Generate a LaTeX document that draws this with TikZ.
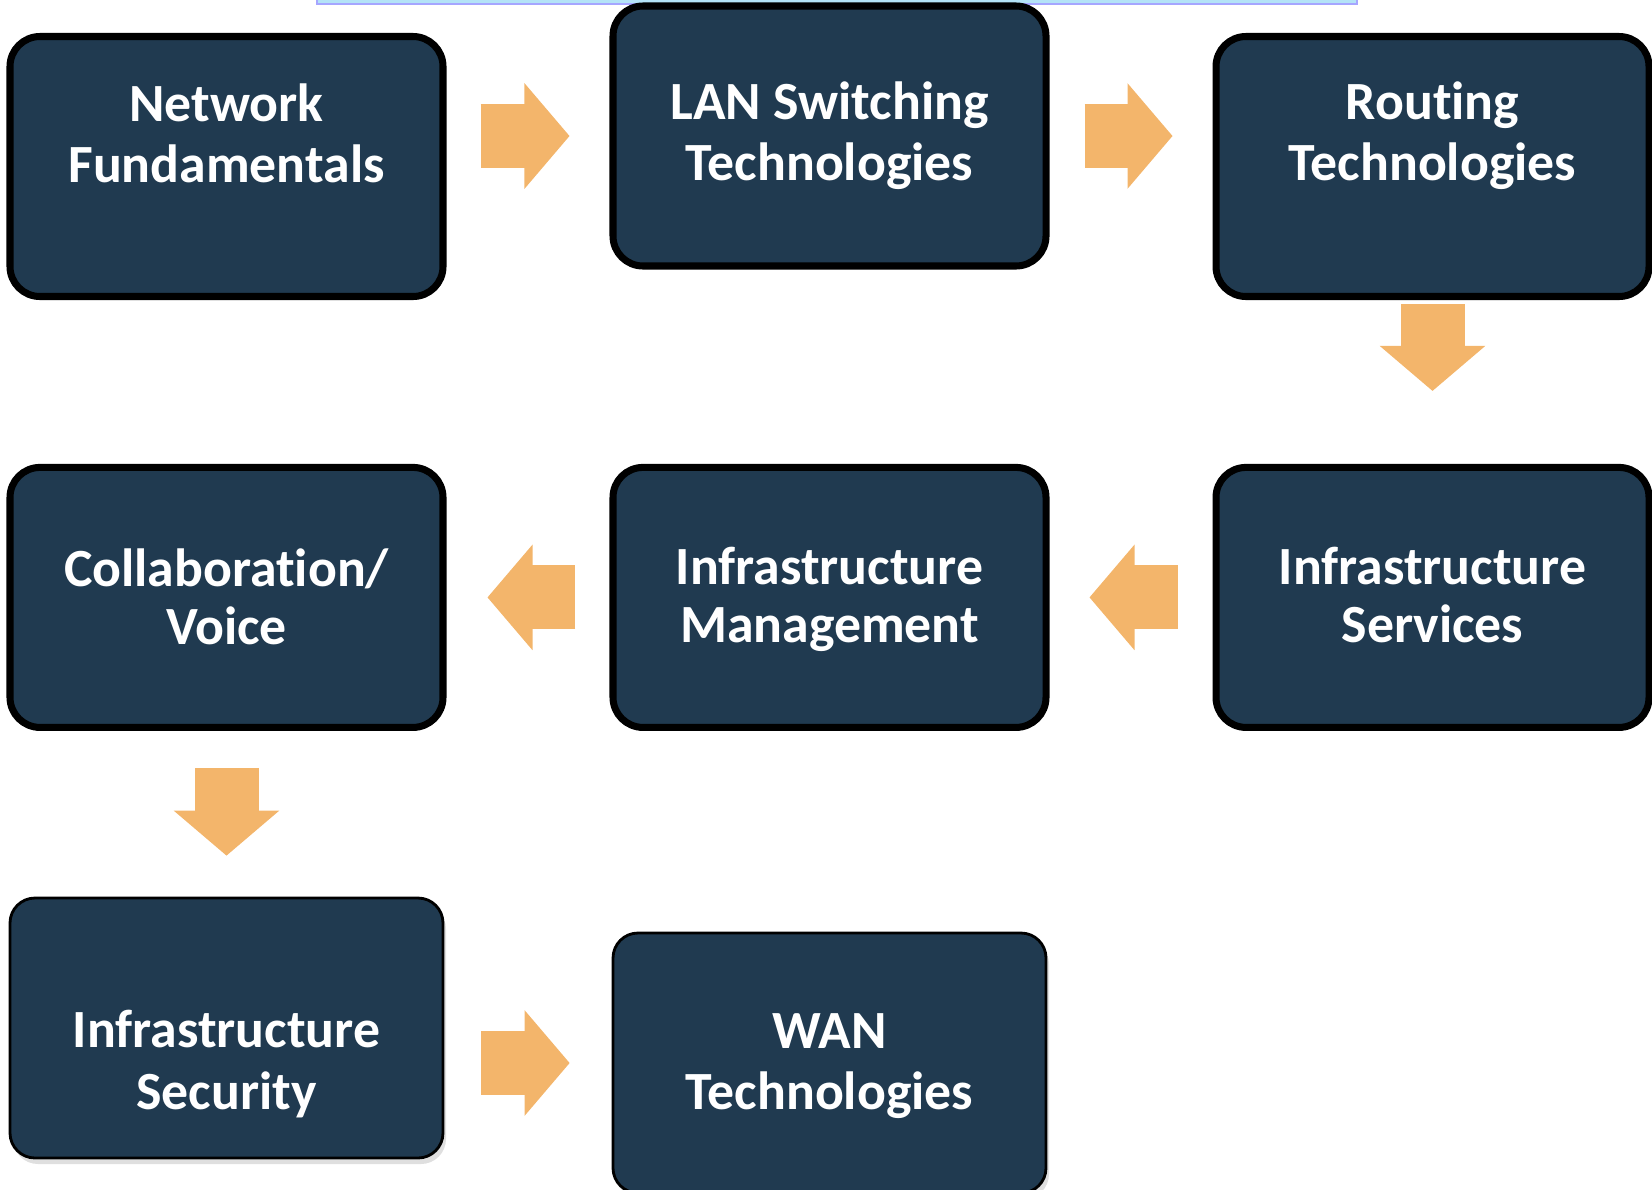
\documentclass[tikz,border=0pt]{standalone}
\usepackage{fontspec}
\setmainfont{Carlito}[Ligatures={NoCommon,NoContextual}]
\usetikzlibrary{arrows.meta,shadows}
\definecolor{boxblue}{HTML}{203A50}
\definecolor{flowora}{HTML}{F3B56B}
\definecolor{barblue}{HTML}{B4E3F7}

\tikzset{
  stage/.style={draw=black, line width=2pt, fill=boxblue, rounded corners=0.3cm,
    minimum width=4.33cm, minimum height=2.6cm, inner sep=0pt},
  thinstage/.style={stage, line width=0.8pt, rounded corners=0.25cm,
    drop shadow={opacity=0.25, shadow xshift=0.03cm, shadow yshift=-0.06cm}},
  lbl/.style={text=white, font=\fontsize{15.3}{17.4}\selectfont\bfseries, align=center},
  tightlbl/.style={lbl, font=\fontsize{15.3}{16.5}\selectfont\bfseries},
  flow/.style={draw=flowora, line width=0.64cm,
    -{Triangle[length=0.45cm,width=1.05cm,line width=1pt]}},
}

\begin{document}
\begin{tikzpicture}
\useasboundingbox (0,0) rectangle (16.52,-11.89);
\clip (0,0) rectangle (16.52,-11.89);

% cut-off bar at the top
\draw[blue!35, fill=barblue, line width=0.4pt] (3.17,0.05) rectangle (13.57,-0.04);

% first row
\node[stage] (net) at (2.265,-1.665) {};
\node[stage] (lan) at (8.295,-1.36) {};
\node[stage] (rout) at (14.325,-1.665) {};
\node[lbl] (net-t) at (2.265,-1.33) {Network\\Fundamentals};
\node[lbl] (lan-t) at (8.295,-1.36) {LAN Switching\\Technologies};
\node[lbl] (rout-t) at (14.325,-1.36) {Routing\\Technologies};

% second row
\node[stage] (ivoice) at (2.265,-5.974) {};
\node[stage] (imgmt) at (8.295,-5.974) {};
\node[stage] (isvc) at (14.325,-5.974) {};
\node[tightlbl] (ivoice-t) at (2.265,-5.97) {Collaboration/\\Voice};
\node[tightlbl] (imgmt-t) at (8.295,-5.99) {Infrastructure\\Management};
\node[tightlbl] (isvc-t) at (14.325,-5.95) {Infrastructure\\Services};

% third row
\node[thinstage] (isec) at (2.265,-10.28) {};
\node[thinstage] (wan) at (8.295,-10.63) {};
\node[lbl] (isec-t) at (2.265,-10.64) {Infrastructure\\Security};
\node[lbl] (wan-t) at (8.295,-10.66) {WAN\\Technologies};

% block arrows
\draw[flow, shorten <=0.34cm, shorten >=0.40cm] (net.east |- lan.west) -- (lan.west);
\draw[flow, shorten <=0.35cm, shorten >=0.40cm] (lan.east) -- (rout.west |- lan.east);
\draw[flow, shorten <=0.04cm, shorten >=0.73cm] (rout.south) -- (isvc.north);
\draw[flow, shorten <=0.35cm, shorten >=0.40cm] (isvc.west) -- (imgmt.east);
\draw[flow, shorten <=0.34cm, shorten >=0.41cm] (imgmt.west) -- (ivoice.east);
\draw[flow, shorten <=0.37cm, shorten >=0.41cm] (ivoice.south) -- (isec.north);
\draw[flow, shorten <=0.37cm, shorten >=0.42cm] (isec.east |- wan.west) -- (wan.west);

\end{tikzpicture}
\end{document}
